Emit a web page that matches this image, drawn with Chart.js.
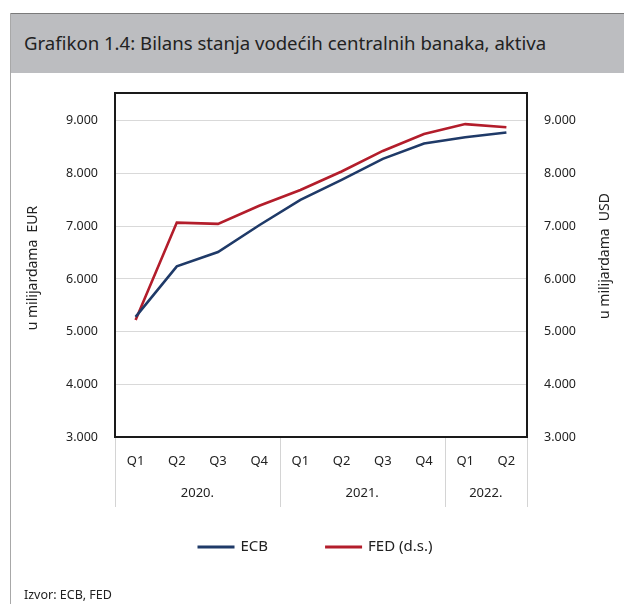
<!DOCTYPE html>
<html>
<head>
<meta charset="utf-8">
<script src="https://cdn.jsdelivr.net/npm/chart.js@4"></script>
<style>
  body { margin: 0; width: 624px; height: 604px; position: relative; background: #fff; overflow: hidden; font-family: "Noto Sans", sans-serif; }
  #banner { position: absolute; left: 10px; top: 13px; width: 614px; height: 59px; background: #bcbdc0; border-top: 1px solid #7a7a7a; }
  #banner span { position: absolute; left: 14px; top: 16px; font-size: 18.6px; color: #222; }
  #leftline { position: absolute; left: 10px; top: 13px; bottom: 0; width: 1px; background: #a8a8a8; }
  #source { position: absolute; left: 24px; top: 586px; font-size: 12.5px; color: #222; }
  #chart { position: absolute; left: 0; top: 0; }
</style>
</head>
<body>
<div id="banner"><span>Grafikon 1.4: Bilans stanja vodećih centralnih banaka, aktiva</span></div>
<div id="leftline"></div>
<canvas id="chart" width="624" height="604"></canvas>
<div id="source">Izvor: ECB, FED</div>
<script>
const quarters = ['Q1', 'Q2', 'Q3', 'Q4', 'Q1', 'Q2', 'Q3', 'Q4', 'Q1', 'Q2'];
const years = ['2020.', '2021.', '2022.'];
const yearSpans = [4, 4, 2];
const ecb = [5280, 6240, 6510, 7020, 7500, 7880, 8280, 8570, 8690, 8780];
const fed = [5220, 7070, 7045, 7390, 7690, 8040, 8430, 8750, 8940, 8880];

const blue = '#1f3a68';
const red = '#b31d2b';
const font = "'Noto Sans', sans-serif";

// box round the plot, year row under the quarters, axis titles, legend
const extras = {
  id: 'extras',
  beforeDatasetsDraw(chart) {
    const { ctx, chartArea: a } = chart;
    ctx.save();
    ctx.strokeStyle = '#1a1a1a';
    ctx.lineWidth = 2;
    ctx.strokeRect(a.left, a.top, a.right - a.left, a.bottom - a.top);
    ctx.restore();
  },
  afterDraw(chart) {
    const { ctx, chartArea: a } = chart;
    const x = chart.scales.x;
    ctx.save();
    ctx.strokeStyle = '#d4d4d4';
    ctx.lineWidth = 1;
    ctx.fillStyle = '#222';
    ctx.font = '13px ' + font;
    ctx.textAlign = 'center';
    ctx.textBaseline = 'middle';
    let start = 0;
    let edges = [a.left];
    years.forEach((y, i) => {
      const end = start + yearSpans[i] - 1;
      const mid = (x.getPixelForValue(start) + x.getPixelForValue(end)) / 2;
      ctx.fillText(y, mid, 493);
      const right = end === quarters.length - 1 ? a.right : (x.getPixelForValue(end) + x.getPixelForValue(end + 1)) / 2;
      edges.push(right);
      start = end + 1;
    });
    edges.forEach(e => {
      ctx.beginPath();
      ctx.moveTo(Math.round(e) + 0.5, a.bottom + 1);
      ctx.lineTo(Math.round(e) + 0.5, 507);
      ctx.stroke();
    });

    ctx.font = '14px ' + font;
    ctx.translate(33, 268);
    ctx.rotate(-Math.PI / 2);
    ctx.fillText('u milijardama  EUR', 0, 0);
    ctx.restore();

    ctx.save();
    ctx.fillStyle = '#222';
    ctx.font = '14px ' + font;
    ctx.textAlign = 'center';
    ctx.textBaseline = 'middle';
    ctx.translate(605, 256);
    ctx.rotate(-Math.PI / 2);
    ctx.fillText('u milijardama  USD', 0, 0);
    ctx.restore();

    // legend
    ctx.save();
    ctx.font = '15px ' + font;
    ctx.textBaseline = 'middle';
    ctx.fillStyle = '#222';
    const box = 37, gapText = 6, gapItem = 57, ly = 547;
    const items = chart.data.datasets.map(d => ({ label: d.label, color: d.borderColor, w: box + gapText + ctx.measureText(d.label).width }));
    const total = items.reduce((s, it) => s + it.w, 0) + gapItem * (items.length - 1);
    let lx = 315 - total / 2;
    items.forEach(it => {
      ctx.fillStyle = it.color;
      ctx.fillRect(lx, ly - 1.5, box, 3);
      ctx.fillStyle = '#222';
      ctx.fillText(it.label, lx + box + gapText, ly);
      lx += it.w + gapItem;
    });
    ctx.restore();
  }
};

const keepThousands = s => { s.ticks = s.ticks.filter(t => t.value % 1000 === 0); };
const fmt = v => (v / 1000).toFixed(3);

new Chart(document.getElementById('chart'), {
  type: 'line',
  data: {
    labels: quarters,
    datasets: [
      { label: 'ECB', data: ecb, borderColor: blue, backgroundColor: blue, borderWidth: 2.6, pointRadius: 0, yAxisID: 'y' },
      { label: 'FED (d.s.)', data: fed, borderColor: red, backgroundColor: red, borderWidth: 2.6, pointRadius: 0, yAxisID: 'y1' }
    ]
  },
  options: {
    responsive: false,
    animation: false,
    layout: { padding: { top: 93, bottom: 87 } },
    plugins: {
      tooltip: { enabled: false },
      legend: { display: false }
    },
    scales: {
      x: {
        offset: true,
        grid: { display: false, drawTicks: false },
        border: { display: false },
        ticks: { font: { family: font, size: 13 }, color: '#222', padding: 16, maxRotation: 0 },
        afterFit: s => { s.height = 80; }
      },
      y: {
        position: 'left',
        min: 3000,
        max: 9530,
        afterBuildTicks: keepThousands,
        afterFit: s => { s.width = 115; },
        grid: { color: '#d9d9d9', drawTicks: false },
        border: { display: false },
        ticks: { font: { family: font, size: 12.5 }, color: '#222', padding: 17, callback: fmt }
      },
      y1: {
        position: 'right',
        min: 3000,
        max: 9530,
        afterBuildTicks: keepThousands,
        afterFit: s => { s.width = 97; },
        grid: { display: false, drawTicks: false },
        border: { display: false },
        ticks: { font: { family: font, size: 12.5 }, color: '#222', padding: 17, callback: fmt }
      }
    }
  },
  plugins: [extras]
});
</script>
</body>
</html>
